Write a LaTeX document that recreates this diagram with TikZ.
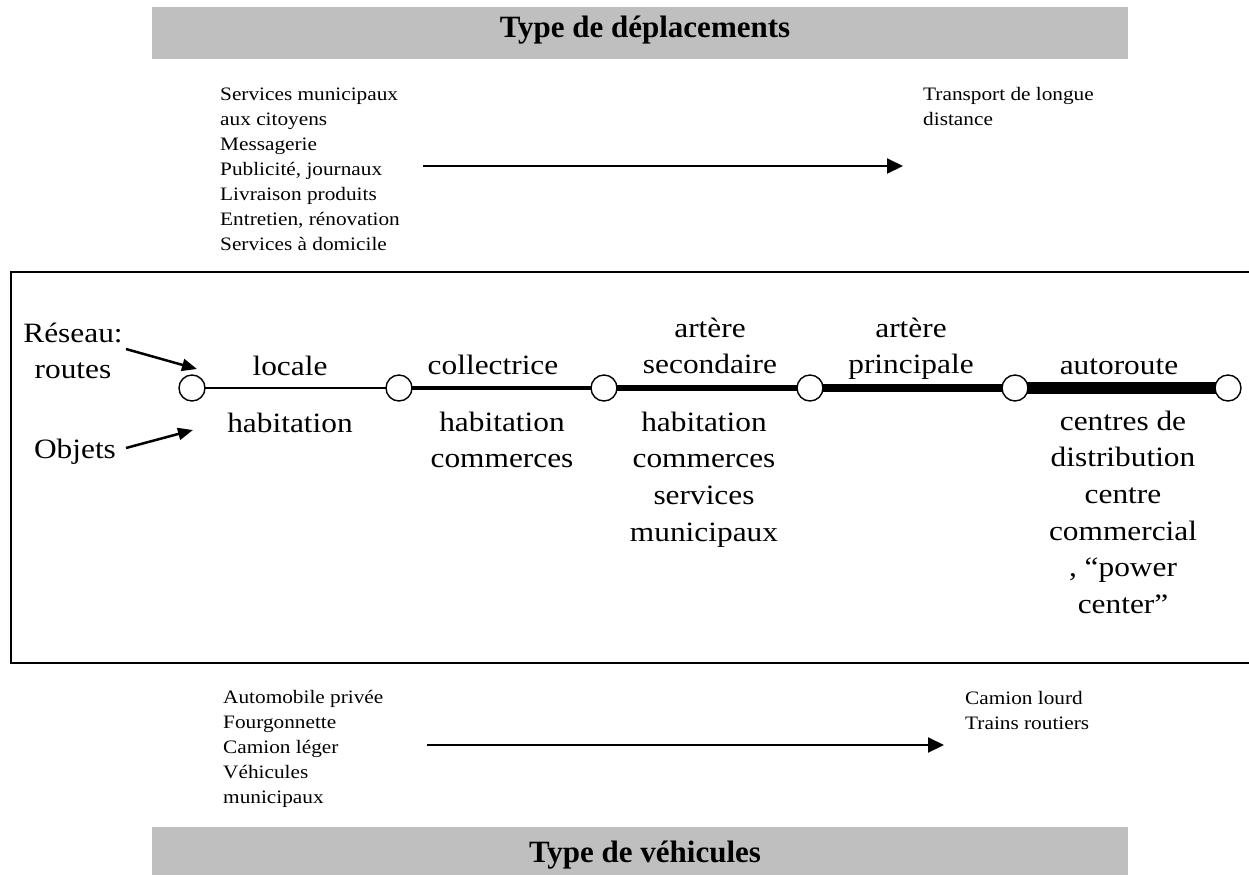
\documentclass[tikz,border=0pt]{standalone}
\usepackage{fontspec}
\setmainfont{Liberation Serif}
\newfontfamily\labfont{Liberation Serif}[FakeStretch=1.12]
\usetikzlibrary{arrows.meta}
\definecolor{barfill}{RGB}{191,191,191}
% multi-line text whose baseline is the first line's baseline
\newcommand{\txtrows}[2]{\begin{tabular}[t]{@{}#1@{}}#2\end{tabular}}
\tikzset{
  bandtitle/.style={font=\fontsize{31}{36}\selectfont\bfseries, anchor=base, inner sep=0pt},
  bandbar/.style={fill=barfill, draw=none},
  smalltext/.style={font=\labfont\fontsize{19}{25}\selectfont, anchor=base west, inner sep=0pt},
  roadtext/.style={font=\labfont\fontsize{28}{36.7}\selectfont, anchor=base, inner sep=0pt},
  junction/.style={circle, draw, fill=white, line width=1.4pt, minimum size=26pt, inner sep=0pt},
  flow/.style={line width=2pt, -{Triangle[length=16pt,width=15pt]}},
  pointer/.style={line width=2.5pt, -{Triangle[length=15pt,width=12pt]}},
  frameline/.style={line width=1.6pt},
}
\begin{document}
\begin{tikzpicture}[x=1pt,y=-1pt]
\useasboundingbox (0,0) rectangle (1249,876);
\clip (0,0) rectangle (1249,876);

% title bands
\path[bandbar] (152,7) rectangle (1128,59);
\node[bandtitle] (deplTitle) at (645,37) {Type de déplacements};
\path[bandbar] (152,827) rectangle (1128,875);
\node[bandtitle] (vehTitle) at (645,862) {Type de véhicules};

% kinds of trips
\node[smalltext] (tripsShort) at (220,100) {\txtrows{l}{Services municipaux\\aux citoyens\\Messagerie\\Publicité, journaux\\Livraison produits\\Entretien, rénovation\\Services à domicile}};
\node[smalltext] (tripsLong) at (923,100) {\txtrows{l}{Transport de longue\\distance}};
\coordinate (tripFrom) at (423,166);
\coordinate (tripTo) at (903,166);
\draw[flow] (tripFrom) -- (tripTo);

% frame around the road network
\draw[frameline] (1262,272) -- (11,272) -- (11,663) -- (1262,663);

% road network
\coordinate (p1) at (192,388);
\coordinate (p2) at (399,388);
\coordinate (p3) at (604,388);
\coordinate (p4) at (810,388);
\coordinate (p5) at (1015,388);
\coordinate (p6) at (1228,388);
\draw[line width=2pt]   (p1) -- (p2);
\draw[line width=4pt]   (p2) -- (p3);
\draw[line width=6pt]   (p3) -- (p4);
\draw[line width=7.5pt] (p4) -- (p5);
\draw[line width=12pt]  (p5) -- (p6);
\foreach \i in {1,...,6} { \node[junction] (j\i) at (p\i) {}; }

% road classes
\node[roadtext] (rLocale) at (290,375) {locale};
\node[roadtext] (rColl) at (493,374) {collectrice};
\node[roadtext] (rSec) at (710,337) {\txtrows{c}{artère\\secondaire}};
\node[roadtext] (rPrinc) at (911,337) {\txtrows{c}{artère\\principale}};
\node[roadtext] (rAuto) at (1119,374) {autoroute};

% objects served
\node[roadtext] (oLocale) at (290,432) {habitation};
\node[roadtext] (oColl) at (502,431) {\txtrows{c}{habitation\\commerces}};
\node[roadtext] (oSec) at (704,431) {\txtrows{c}{habitation\\commerces\\services\\municipaux}};
\node[roadtext] (oAuto) at (1123,430) {\txtrows{c}{centres de\\distribution\\centre\\commercial\\, “power\\center”}};

% row captions
\node[roadtext] (capNet) at (73,342) {\txtrows{c}{Réseau:\\routes}};
\node[roadtext] (capObj) at (75,458) {Objets};
\coordinate (netFrom) at (126,349);
\coordinate (netTo) at (197,369);
\coordinate (objFrom) at (126,448);
\coordinate (objTo) at (193,430);
\draw[pointer] (netFrom) -- (netTo);
\draw[pointer] (objFrom) -- (objTo);

% kinds of vehicles
\node[smalltext] (vehLight) at (223,703) {\txtrows{l}{Automobile privée\\Fourgonnette\\Camion léger\\Véhicules\\municipaux}};
\node[smalltext] (vehHeavy) at (965,704) {\txtrows{l}{Camion lourd\\Trains routiers}};
\coordinate (vehFrom) at (427,745);
\coordinate (vehTo) at (944,745);
\draw[flow] (vehFrom) -- (vehTo);
\end{tikzpicture}
\end{document}
